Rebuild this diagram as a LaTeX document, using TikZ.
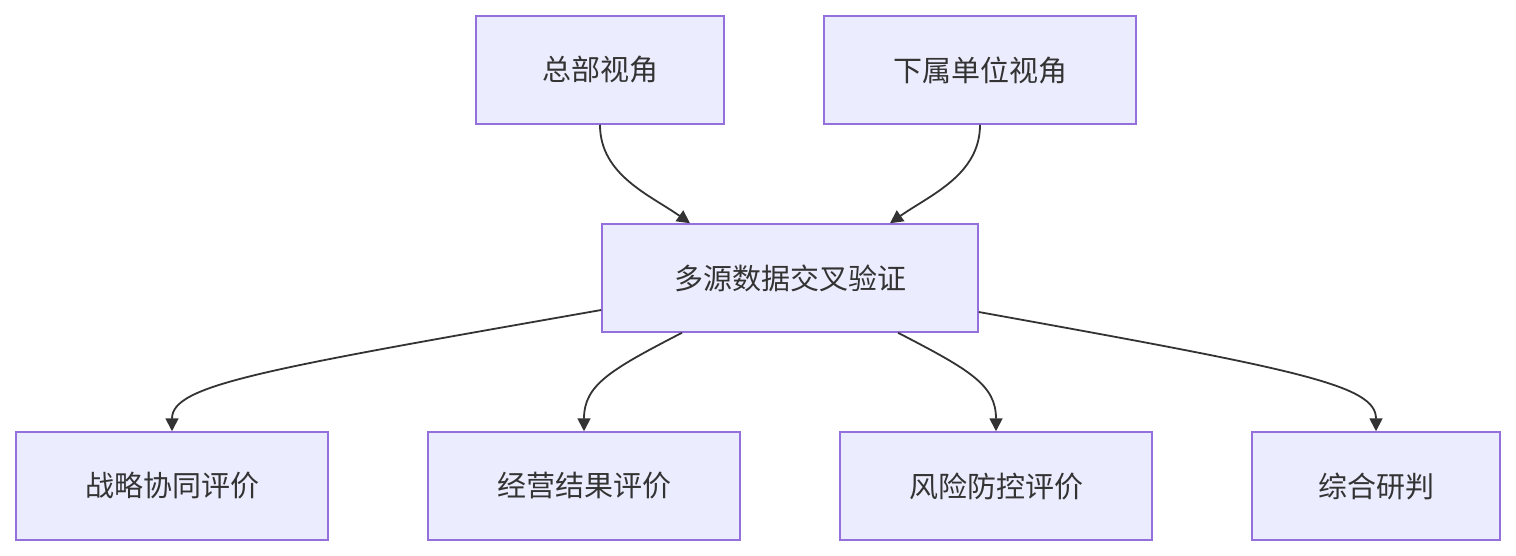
\documentclass[tikz,border=0pt]{standalone}
\usepackage{fontspec}
\setmainfont{Noto Sans CJK SC}
\usetikzlibrary{arrows.meta}
\definecolor{nfill}{HTML}{ECECFF}
\definecolor{nline}{HTML}{9370DB}
\definecolor{eline}{HTML}{333333}
\begin{document}
\begin{tikzpicture}[x=1pt,y=-1pt,
  box/.style={draw=nline,fill=nfill,line width=1.5pt,minimum height=108pt,inner sep=0pt,font=\fontsize{29}{34}\selectfont,text=eline},
  edge/.style={draw=eline,line width=1.8pt,-{Triangle[length=13pt,width=13pt]}}]
\useasboundingbox (0,0) rectangle (1516,556);
\node[box,minimum width=248pt] (a) at (600,70) {总部视角};
\node[box,minimum width=312pt] (b) at (980,70) {下属单位视角};
\node[box,minimum width=376pt] (m) at (790,278) {多源数据交叉验证};
\node[box,minimum width=312pt] (c1) at (172,486) {战略协同评价};
\node[box,minimum width=312pt] (c2) at (584,486) {经营结果评价};
\node[box,minimum width=312pt] (c3) at (996,486) {风险防控评价};
\node[box,minimum width=248pt] (c4) at (1376,486) {综合研判};
\draw[edge] (a.south) .. controls (600,175) and (650,195) .. ([xshift=-100pt]m.north);
\draw[edge] (b.south) .. controls (980,175) and (930,195) .. ([xshift=100pt]m.north);
\draw[edge] ([yshift=-32pt]m.west) .. controls (260,370) and (172,385) .. (c1.north);
\draw[edge] ([xshift=-108pt]m.south) .. controls (610,370) and (584,385) .. (c2.north);
\draw[edge] ([xshift=108pt]m.south) .. controls (970,370) and (996,385) .. (c3.north);
\draw[edge] ([yshift=-34pt]m.east) .. controls (1300,370) and (1376,385) .. (c4.north);
\end{tikzpicture}
\end{document}
